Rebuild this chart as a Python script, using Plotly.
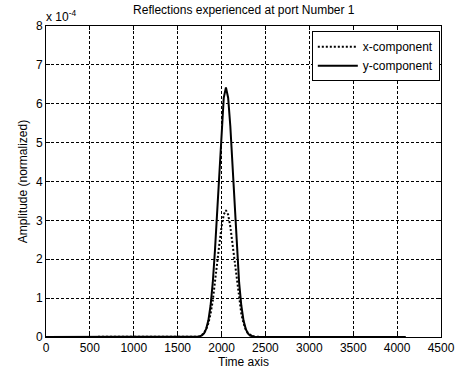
import plotly.graph_objects as go

# time axis samples
time = [0, 1650, 1675, 1700, 1725, 1750, 1775, 1800, 1825, 1850, 1875, 1900, 1925, 1950, 1975, 2000, 2025,
        2050, 2075, 2100, 2125, 2150, 2175, 2200, 2225, 2250, 2275, 2300, 2325, 2350, 2375, 2400, 2425, 2450, 4096]

# amplitudes in units of 1e-4
x_component = [0, 0.0005, 0.0013, 0.0037, 0.0094, 0.0223, 0.0494, 0.102, 0.197, 0.355, 0.598, 0.937, 1.372, 1.873, 2.387, 2.838, 3.149,
               3.26, 3.149, 2.838, 2.387, 1.873, 1.372, 0.937, 0.598, 0.355, 0.197, 0.102, 0.0494, 0.0223, 0.0094, 0.0037, 0.0013, 0.0005, 0]
y_component = [0, 0.0001, 0.0005, 0.0016, 0.0051, 0.0146, 0.0387, 0.094, 0.2095, 0.430, 0.810, 1.403, 2.232, 3.265, 4.389, 5.422, 6.154,
               6.42, 6.154, 5.422, 4.389, 3.265, 2.232, 1.403, 0.810, 0.430, 0.2095, 0.094, 0.0387, 0.0146, 0.0051, 0.0016, 0.0005, 0.0001, 0]

x_ticks = [0, 500, 1000, 1500, 2000, 2500, 3000, 3500, 4000, 4500]
y_ticks = [0, 1, 2, 3, 4, 5, 6, 7, 8]

font = dict(family="Liberation Sans, Arial, sans-serif", size=12, color="black")

fig = go.Figure()
fig.add_trace(go.Scatter(x=time, y=x_component, mode="lines", name="x-component",
                         line=dict(color="black", width=2, dash="2px,2px")))
fig.add_trace(go.Scatter(x=time, y=y_component, mode="lines", name="y-component",
                         line=dict(color="black", width=2)))

axis_common = dict(showline=True, linecolor="black", linewidth=1, mirror="ticks",
                   ticks="inside", ticklen=4, tickcolor="black",
                   showgrid=True, gridcolor="black", gridwidth=1, griddash="3px,2px",
                   zeroline=False, tickfont=font)

fig.update_xaxes(range=[0, 4500], tickvals=x_ticks,
                 title=dict(text="Time axis", font=font, standoff=3), **axis_common)
fig.update_yaxes(range=[0, 8], tickvals=y_ticks,
                 title=dict(text="Amplitude (normalized)", font=font, standoff=5), **axis_common)

fig.update_layout(
    width=467, height=379,
    margin=dict(l=46, r=20, t=26, b=37),
    paper_bgcolor="white", plot_bgcolor="white",
    font=font,
    title=dict(text="Reflections experienced at port Number 1", x=0.522, xanchor="center",
               y=0.985, yanchor="top", font=font),
    showlegend=True,
    legend=dict(x=0.997, y=0.983, xanchor="right", yanchor="top",
                bgcolor="white", bordercolor="black", borderwidth=1,
                font=font, itemwidth=40, tracegroupgap=0),
    annotations=[dict(text="x 10<sup>-4</sup>", xref="paper", yref="paper", x=-0.005, y=1.0,
                      xanchor="left", yanchor="bottom", showarrow=False, font=font, yshift=0)],
)

fig.write_html("out.html")
